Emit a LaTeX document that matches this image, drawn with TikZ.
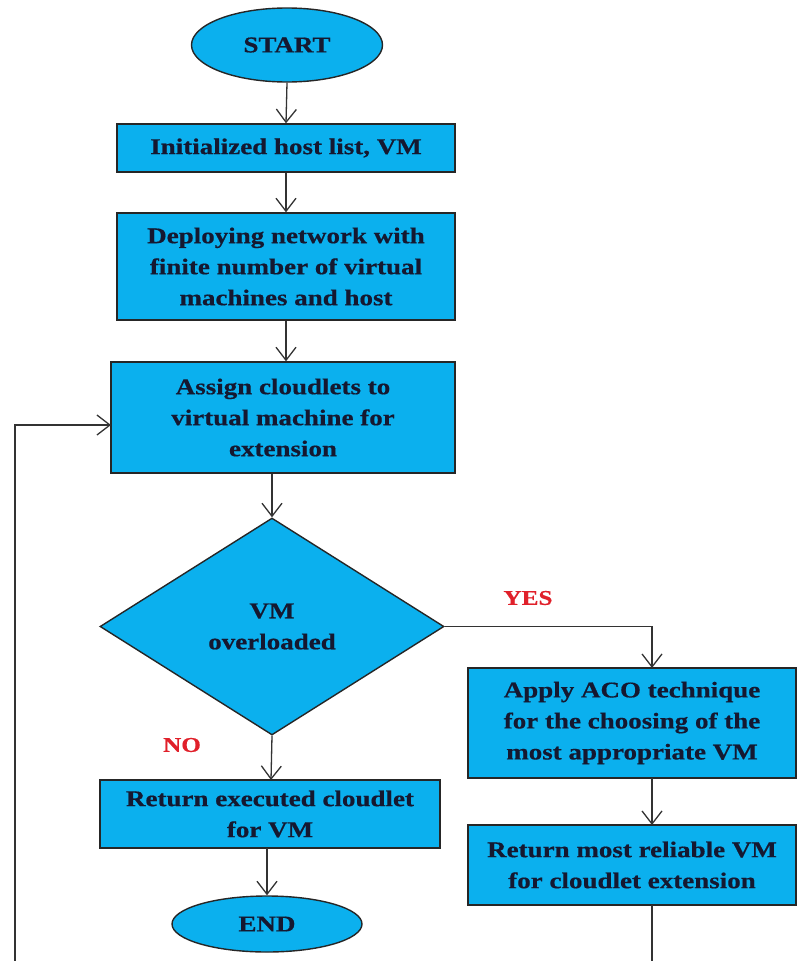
\documentclass[tikz,border=0pt]{standalone}
\usepackage{fontspec}
\setmainfont[FakeStretch=1.2,FakeBold=0.6]{Liberation Serif}
\usetikzlibrary{shapes.geometric,arrows.meta,calc}
\definecolor{boxblue}{HTML}{0BB0EE}
\definecolor{txtnavy}{HTML}{151830}
\definecolor{lblred}{HTML}{E0202A}
\tikzset{
  base/.style={draw=black!85, line width=1.4pt, fill=boxblue, text=txtnavy,
    font=\fontsize{22.5}{31}\selectfont\bfseries, align=center, inner sep=0pt},
  procbox/.style={base, rectangle},
  termbox/.style={base, ellipse},
  decbox/.style={base, diamond},
  conn/.style={draw=black!80, line width=1.3pt,
    -{Straight Barb[length=13pt,width=20pt,line width=1.3pt]}},
  lbl/.style={text=lblred, font=\fontsize{21}{24}\selectfont\bfseries}
}
\begin{document}
\begin{tikzpicture}[x=1pt,y=-1pt]
\useasboundingbox (0,0) rectangle (797,961);
\clip (0,0) rectangle (797,961);
\node[termbox, minimum width=191pt, minimum height=74pt] (start) at (287,45) {START};
\node[procbox, minimum width=338pt, minimum height=48pt] (init) at (286,148) {Initialized host list, VM};
\node[procbox, minimum width=338pt, minimum height=107pt] (deploy) at (286,266.5) {Deploying network with\\finite number of virtual\\machines and host};
\node[procbox, minimum width=344pt, minimum height=111pt] (assign) at (283,417.5) {Assign cloudlets to\\virtual machine for\\extension};
\node[decbox, minimum width=344pt, minimum height=217pt] (dec) at (272,626.5) {VM\\overloaded};
\node[procbox, minimum width=328pt, minimum height=110pt] (aco) at (632,723) {Apply ACO technique\\for the choosing of the\\most appropriate VM};
\node[procbox, minimum width=328pt, minimum height=80pt] (rel) at (632,865) {Return most reliable VM\\for cloudlet extension};
\node[procbox, minimum width=340pt, minimum height=68pt] (exec) at (270,814) {Return executed cloudlet\\for VM};
\node[termbox, minimum width=190pt, minimum height=56pt] (end) at (267,924) {END};
\node[lbl] (yes) at (528,598) {YES};
\node[lbl] (no) at (182,745) {NO};
\coordinate (acotop) at (652,668);
\coordinate (reltop) at (652,825);
\coordinate (acobot) at (652,778);
\coordinate (relbot) at (652,905);
\coordinate (loopa) at (652,990);
\coordinate (loopb) at (15,990);
\coordinate (loopc) at (15,425);
\coordinate (assignin) at (111,425);
\coordinate (exectop) at (271,780);
\coordinate (execbot) at (267,848);
\draw[conn] (start.south) -- (init.north);
\draw[conn] (init.south) -- (deploy.north);
\draw[conn] (deploy.south) -- (deploy.south |- assign.north);
\draw[conn] (assign.south -| dec.north) -- (dec.north);
\draw[conn] (dec.east) -| (acotop);
\draw[conn] (acobot) -- (reltop);
\draw[conn] (dec.south) -- (exectop);
\draw[conn] (execbot) -- (end.north);
\draw[conn] (relbot) -- (loopa) -- (loopb) -- (loopc) -- (assignin);
\end{tikzpicture}
\end{document}
